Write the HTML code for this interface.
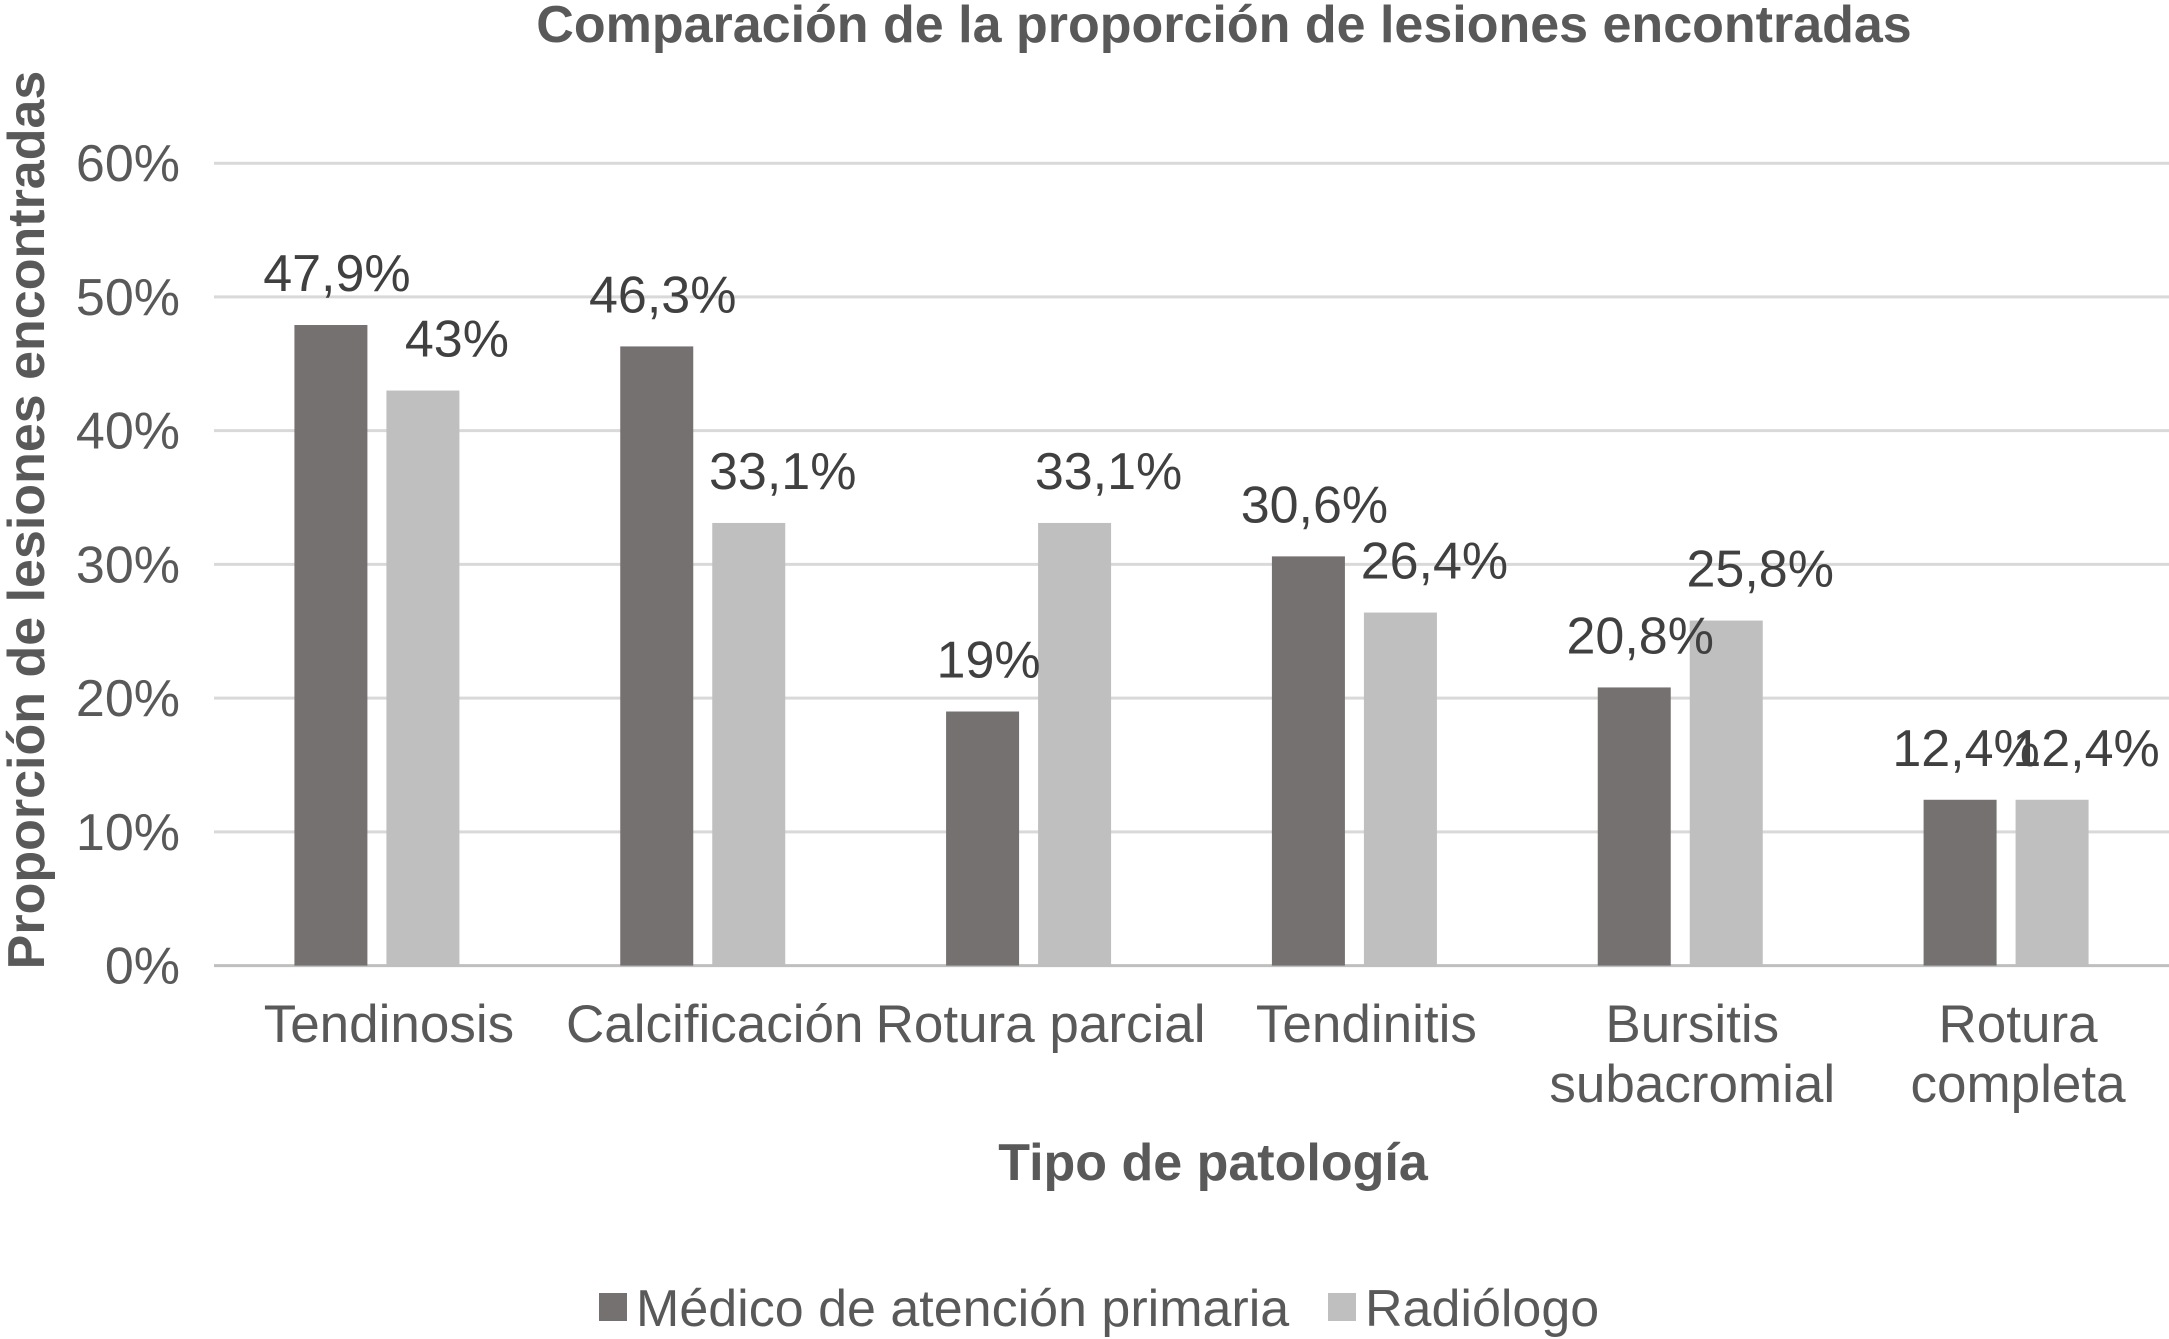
<!DOCTYPE html>
<html><head><meta charset="utf-8"><style>
html,body{margin:0;padding:0;background:#fff;}
svg{display:block;font-family:"Liberation Sans",Arial,sans-serif;}
</style></head><body>
<svg id="chart" width="2169" height="1339" viewBox="0 0 2169 1339" xmlns="http://www.w3.org/2000/svg">
<text x="1224" y="42" text-anchor="middle" font-size="52" font-weight="bold" fill="#595959">Comparación de la proporción de lesiones encontradas</text>
<text transform="translate(44,520) rotate(-90)" text-anchor="middle" font-size="52" font-weight="bold" fill="#595959">Proporción de lesiones encontradas</text>
<text x="1213" y="1180" text-anchor="middle" font-size="52" font-weight="bold" fill="#595959">Tipo de patología</text>
<g id="grid"></g><g id="bars"></g><g id="labels"></g>
<g>
<rect x="599" y="1293" width="28" height="28" fill="#767171"/>
<text x="636" y="1326" font-size="52" fill="#595959">Médico de atención primaria</text>
<rect x="1328" y="1293" width="28" height="28" fill="#bfbfbf"/>
<text x="1365" y="1326" font-size="52" fill="#595959">Radiólogo</text>
</g>
</svg>
<script>
const categories=[["Tendinosis"],["Calcificación"],["Rotura parcial"],["Tendinitis"],["Bursitis","subacromial"],["Rotura","completa"]];
const medico=[47.9,46.3,19,30.6,20.8,12.4];
const radiologo=[43,33.1,33.1,26.4,25.8,12.4];
const medicoLabels=["47,9%","46,3%","19%","30,6%","20,8%","12,4%"];
const radiologoLabels=["43%","33,1%","33,1%","26,4%","25,8%","12,4%"];
const yTicks=[0,10,20,30,40,50,60];
const NS="http://www.w3.org/2000/svg";
const x0=214,x1=2169,y0=965.6,yTop=163.2,yMax=60;
const bw=(x1-x0)/categories.length,barW=73,gap=19;
function y(v){return y0-(v/yMax)*(y0-yTop);}
function cx(i){return x0+bw*(i+0.5);}
function mk(tag,attrs,parent,txt){const e=document.createElementNS(NS,tag);for(const k in attrs)e.setAttribute(k,attrs[k]);if(txt!==undefined)e.textContent=txt;parent.appendChild(e);return e;}
const grid=document.getElementById('grid'),bars=document.getElementById('bars'),labels=document.getElementById('labels');
yTicks.forEach(t=>{
 const l=mk('line',{x1:x0,x2:x1,y1:y(t),y2:y(t),stroke:t===0?'#bfbfbf':'#d9d9d9','stroke-width':3},grid);
 
 
 const tx=mk('text',{x:180,y:y(t)+18,'text-anchor':'end','font-size':52,fill:'#595959'},grid,t+'%');
 
 
});
categories.forEach((c,i)=>{
 const c0=cx(i);
 const xa=c0-gap/2-barW,xb=c0+gap/2;
 const b1=mk('rect',{x:xa,y:y(medico[i]),width:barW,height:y0-y(medico[i]),fill:'#767171'},bars);
 
 
 const b2=mk('rect',{x:xb,y:y(radiologo[i]),width:barW,height:y0-y(radiologo[i]),fill:'#bfbfbf'},bars);
 
 
 const l1=mk('text',{x:xa+barW/2+6,y:y(medico[i])-34,'text-anchor':'middle','font-size':52,fill:'#404040'},labels,medicoLabels[i]);
 
 
 const l2=mk('text',{x:xb+barW/2+34,y:y(radiologo[i])-34,'text-anchor':'middle','font-size':52,fill:'#404040'},labels,radiologoLabels[i]);
 
 
 c.forEach((line,j)=>{
  const t=mk('text',{x:c0+12,y:1042+j*60,'text-anchor':'middle','font-size':53,fill:'#595959'},labels,line);
  
  
 });
});
</script>
</body></html>
